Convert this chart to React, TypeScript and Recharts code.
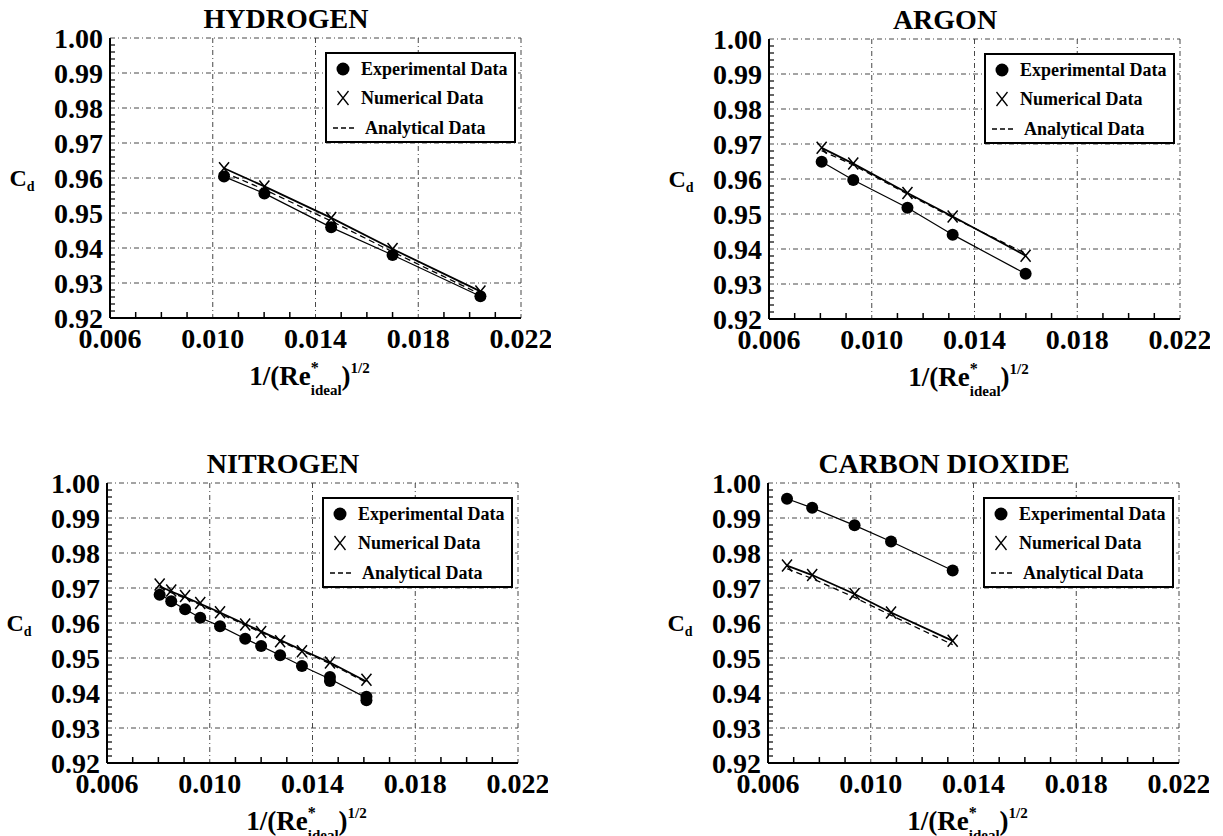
import { ScatterChart, Scatter, XAxis, YAxis, CartesianGrid, Legend, Label } from "recharts"

const FONT = '"Liberation Serif", "Times New Roman", serif'

// axis ticks
const xMajor = [0.006, 0.01, 0.014, 0.018, 0.022]
const xMinor = [
  0.006, 0.007, 0.008, 0.009, 0.01, 0.011, 0.012, 0.013, 0.014, 0.015, 0.016, 0.017, 0.018, 0.019, 0.02,
  0.021, 0.022,
]
const yMajor = [0.92, 0.93, 0.94, 0.95, 0.96, 0.97, 0.98, 0.99, 1.0]
const yMinor = [
  0.92, 0.922, 0.924, 0.926, 0.928, 0.93, 0.932, 0.934, 0.936, 0.938, 0.94, 0.942, 0.944, 0.946, 0.948,
  0.95, 0.952, 0.954, 0.956, 0.958, 0.96, 0.962, 0.964, 0.966, 0.968, 0.97, 0.972, 0.974, 0.976, 0.978,
  0.98, 0.982, 0.984, 0.986, 0.988, 0.99, 0.992, 0.994, 0.996, 0.998, 1.0,
]

// hydrogen
const h2X = [0.01044, 0.01201, 0.01461, 0.017, 0.02042]
const h2Exp = [0.9604, 0.9556, 0.9459, 0.938, 0.9262]
const h2Num = [0.9628, 0.9576, 0.9486, 0.9397, 0.9276]
const h2Ana = [0.9616, 0.9567, 0.9477, 0.9389, 0.9268]

// argon
const arX = [0.00805, 0.00928, 0.01139, 0.01315, 0.01599]
const arExp = [0.9649, 0.9597, 0.9518, 0.9441, 0.9329]
const arNum = [0.9689, 0.9644, 0.956, 0.9493, 0.9381]
const arAna = [0.9681, 0.964, 0.9557, 0.949, 0.9387]

// nitrogen
const n2ExpX = [0.00805, 0.0085, 0.00904, 0.00963, 0.0104, 0.01138, 0.012, 0.01274, 0.01359, 0.01468, 0.01468, 0.0161, 0.0161]
const n2Exp = [0.9681, 0.9662, 0.9639, 0.9615, 0.9591, 0.9555, 0.9534, 0.9508, 0.9477, 0.9446, 0.9434, 0.9389, 0.9379]
const n2X = [0.00805, 0.0085, 0.00904, 0.00963, 0.0104, 0.01138, 0.012, 0.01274, 0.01359, 0.01468, 0.0161]
const n2Num = [0.971, 0.9693, 0.9677, 0.9657, 0.9631, 0.9596, 0.9574, 0.9548, 0.9519, 0.9487, 0.9438]
const n2ExpLine = [0.9683, 0.9662, 0.9639, 0.9615, 0.9591, 0.9555, 0.9534, 0.9508, 0.9477, 0.944, 0.9386]
const n2NumLine = [0.9705, 0.969, 0.9674, 0.9655, 0.963, 0.9597, 0.9576, 0.9551, 0.9523, 0.9487, 0.9433]
const n2Ana = [0.9702, 0.9687, 0.9671, 0.9652, 0.9627, 0.9594, 0.9573, 0.9548, 0.952, 0.9484, 0.943]

// carbon dioxide
const co2X = [0.00674, 0.00772, 0.00937, 0.01079, 0.01319]
const co2Exp = [0.9955, 0.9929, 0.9879, 0.9833, 0.975]
const co2Num = [0.9764, 0.9737, 0.9683, 0.963, 0.9549]
const co2Ana = [0.9755, 0.9727, 0.9673, 0.9622, 0.9538]

type Pt = { x: number; y: number }
const pts = (xs: number[], ys: number[]): Pt[] => xs.map((x, i) => ({ x, y: ys[i] }))

const isMajor = (v: number, list: number[]) => list.some((m) => Math.abs(m - v) < 1e-9)

const BOX_W = 553

function XTick(props: any) {
  const { x, y, payload } = props
  if (!isMajor(payload.value, xMajor)) {
    return <line x1={x} x2={x} y1={y} y2={y - 6} stroke="#000" strokeWidth={1.5} />
  }
  return (
    <text x={x} y={y + 30} textAnchor="middle" fontFamily={FONT} fontWeight="bold" fontSize={28} fill="#000">
      {payload.value.toFixed(3)}
    </text>
  )
}

function YTick(props: any) {
  const { x, y, payload } = props
  if (!isMajor(payload.value, yMajor)) {
    return <line x1={x} x2={x + 5} y1={y} y2={y} stroke="#000" strokeWidth={1.2} />
  }
  return (
    <text x={x - 7} y={y + 9.5} textAnchor="end" fontFamily={FONT} fontWeight="bold" fontSize={28} fill="#000">
      {payload.value.toFixed(2)}
    </text>
  )
}

function RightTick(props: any) {
  const { x, y, payload } = props
  if (isMajor(payload.value, yMajor)) return <g />
  return <line x1={x} x2={x - 5} y1={y} y2={y} stroke="#000" strokeWidth={1.2} />
}

const xAxisLabel = (props: any) => {
  const { x, y, width } = props.viewBox
  return (
    <text x={x + width / 2 - 6} y={y + 67} textAnchor="middle" fontFamily={FONT} fontWeight="bold" fontSize={27} fill="#000">
      1/(Re
      <tspan dy={-12} fontSize={16}>*</tspan>
      <tspan dy={22} dx={-8} fontSize={15}>ideal</tspan>
      <tspan dy={-10}>)</tspan>
      <tspan dy={-12} fontSize={15}>1/2</tspan>
    </text>
  )
}

const yAxisLabel = (props: any) => {
  const { x, y, width, height } = props.viewBox
  return (
    <text x={x + width - 88} y={y + height / 2 + 8} textAnchor="middle" fontFamily={FONT} fontWeight="bold" fontSize={24} fill="#000">
      C<tspan dy={5} fontSize={14}>d</tspan>
    </text>
  )
}

const LegendBox = () => {
  const row = (top: number): any => ({ position: "absolute", left: 0, top: top - 11, height: 22, width: "100%" })
  const text = { position: "absolute" as const, left: 34, top: 0, lineHeight: "22px", whiteSpace: "nowrap" as const }
  return (
    <div
      style={{
        position: "relative",
        width: 191,
        height: 91,
        boxSizing: "border-box",
        border: "2px solid #000",
        background: "#fff",
        fontFamily: FONT,
        fontWeight: "bold",
        fontSize: 18,
        color: "#000",
      }}
    >
      <div style={row(15)}>
        <svg width={34} height={22} style={{ position: "absolute", left: 0, top: 0 }}>
          <circle cx={16} cy={11} r={6.5} fill="#000" />
        </svg>
        <span style={text}>Experimental Data</span>
      </div>
      <div style={row(44)}>
        <svg width={34} height={22} style={{ position: "absolute", left: 0, top: 0 }}>
          <path d="M10.5 4 L21.5 18 M21.5 4 L10.5 18" stroke="#000" strokeWidth={1.3} fill="none" />
        </svg>
        <span style={text}>Numerical Data</span>
      </div>
      <div style={row(74)}>
        <svg width={34} height={22} style={{ position: "absolute", left: 0, top: 0 }}>
          <line x1={6} x2={30} y1={11} y2={11} stroke="#000" strokeWidth={1.3} strokeDasharray="5 3" />
        </svg>
        <span style={{ ...text, left: 38 }}>Analytical Data</span>
      </div>
    </div>
  )
}

const Dot = (p: any) => <circle cx={p.cx} cy={p.cy} r={6} fill="#000" />
const Cross = (p: any) => (
  <path
    d={`M${p.cx - 5} ${p.cy - 6} L${p.cx + 5} ${p.cy + 6} M${p.cx + 5} ${p.cy - 6} L${p.cx - 5} ${p.cy + 6}`}
    stroke="#000"
    strokeWidth={1.5}
    fill="none"
  />
)
const NoShape = () => <g />

type PanelProps = {
  title: string
  plotLeft: number
  plotTop: number
  boxH: number
  exp: Pt[]
  num: Pt[]
  expLine: Pt[]
  numLine: Pt[]
  anaLine: Pt[]
}

function Panel({ title, plotLeft, plotTop, boxH, exp, num, expLine, numLine, anaLine }: PanelProps) {
  return (
    <div style={{ position: "absolute", left: plotLeft - 112, top: plotTop - 40, width: BOX_W, height: boxH }}>
      <ScatterChart width={BOX_W} height={boxH} margin={{ top: 40, right: 30, bottom: boxH - 40 - 280 - 60, left: 42 }}>
        <CartesianGrid
          horizontalValues={yMajor}
          verticalValues={xMajor}
          stroke="#333"
          strokeWidth={0.9}
          strokeDasharray="5 3 1 3"
        />
        <XAxis
          type="number"
          dataKey="x"
          domain={[0.006, 0.022]}
          ticks={xMinor}
          interval={0}
          height={60}
          tickSize={0}
          tickMargin={0}
          tickLine={false}
          tick={<XTick />}
          axisLine={{ stroke: "#000", strokeWidth: 2 }}
          allowDataOverflow
        >
          <Label content={xAxisLabel} />
        </XAxis>
        <XAxis
          xAxisId="top"
          orientation="top"
          type="number"
          dataKey="x"
          domain={[0.006, 0.022]}
          height={0}
          tick={false}
          tickLine={false}
          axisLine={{ stroke: "#000", strokeWidth: 2 }}
        />
        <YAxis
          type="number"
          dataKey="y"
          domain={[0.92, 1.0]}
          ticks={yMinor}
          interval={0}
          width={70}
          tickSize={0}
          tickMargin={0}
          tickLine={false}
          tick={<YTick />}
          axisLine={{ stroke: "#000", strokeWidth: 2 }}
          allowDataOverflow
        >
          <Label content={yAxisLabel} />
        </YAxis>
        <YAxis
          yAxisId="right"
          orientation="right"
          type="number"
          dataKey="y"
          domain={[0.92, 1.0]}
          ticks={yMinor}
          interval={0}
          width={0}
          tickSize={0}
          tickMargin={0}
          tickLine={false}
          tick={<RightTick />}
          axisLine={{ stroke: "#000", strokeWidth: 2 }}
        />
        <Legend
          layout="vertical"
          align="center"
          verticalAlign="middle"
          content={() => <LegendBox />}
          wrapperStyle={{ left: 112 + 215, top: 40 + 14, width: 191 }}
        />
        <Scatter
          name="Analytical Data"
          data={anaLine}
          line={{ stroke: "#000", strokeWidth: 1.3, strokeDasharray: "6 4" }}
          shape={NoShape}
          isAnimationActive={false}
        />
        <Scatter
          name="Experimental fit"
          data={expLine}
          line={{ stroke: "#000", strokeWidth: 1.2 }}
          shape={NoShape}
          isAnimationActive={false}
          legendType="none"
        />
        <Scatter
          name="Numerical fit"
          data={numLine}
          line={{ stroke: "#000", strokeWidth: 1.8 }}
          shape={NoShape}
          isAnimationActive={false}
          legendType="none"
        />
        <Scatter name="Experimental Data" data={exp} shape={Dot} isAnimationActive={false} />
        <Scatter name="Numerical Data" data={num} shape={Cross} isAnimationActive={false} />
      </ScatterChart>
      <div
        style={{
          position: "absolute",
          left: 112 + 176,
          top: 7,
          transform: "translateX(-50%)",
          whiteSpace: "nowrap",
          fontFamily: FONT,
          fontWeight: "bold",
          fontSize: 28,
          lineHeight: "28px",
          color: "#000",
        }}
      >
        {title}
      </div>
    </div>
  )
}

export default function App() {
  return (
    <div style={{ position: "absolute", left: 0, top: 0, width: 1223, height: 836, background: "#fff", overflow: "hidden" }}>
      <Panel
        title="HYDROGEN"
        plotLeft={110}
        plotTop={38}
        boxH={400}
        exp={pts(h2X, h2Exp)}
        num={pts(h2X, h2Num)}
        expLine={pts(h2X, h2Exp)}
        numLine={pts(h2X, h2Num)}
        anaLine={pts(h2X, h2Ana)}
      />
      <Panel
        title="ARGON"
        plotLeft={769}
        plotTop={39}
        boxH={400}
        exp={pts(arX, arExp)}
        num={pts(arX, arNum)}
        expLine={pts(arX, arExp)}
        numLine={pts(arX, arNum)}
        anaLine={pts(arX, arAna)}
      />
      <Panel
        title="NITROGEN"
        plotLeft={107}
        plotTop={483}
        boxH={393}
        exp={pts(n2ExpX, n2Exp)}
        num={pts(n2X, n2Num)}
        expLine={pts(n2X, n2ExpLine)}
        numLine={pts(n2X, n2NumLine)}
        anaLine={pts(n2X, n2Ana)}
      />
      <Panel
        title="CARBON DIOXIDE"
        plotLeft={768}
        plotTop={483}
        boxH={393}
        exp={pts(co2X, co2Exp)}
        num={pts(co2X, co2Num)}
        expLine={pts(co2X, co2Exp)}
        numLine={pts(co2X, co2Num)}
        anaLine={pts(co2X, co2Ana)}
      />
    </div>
  )
}
